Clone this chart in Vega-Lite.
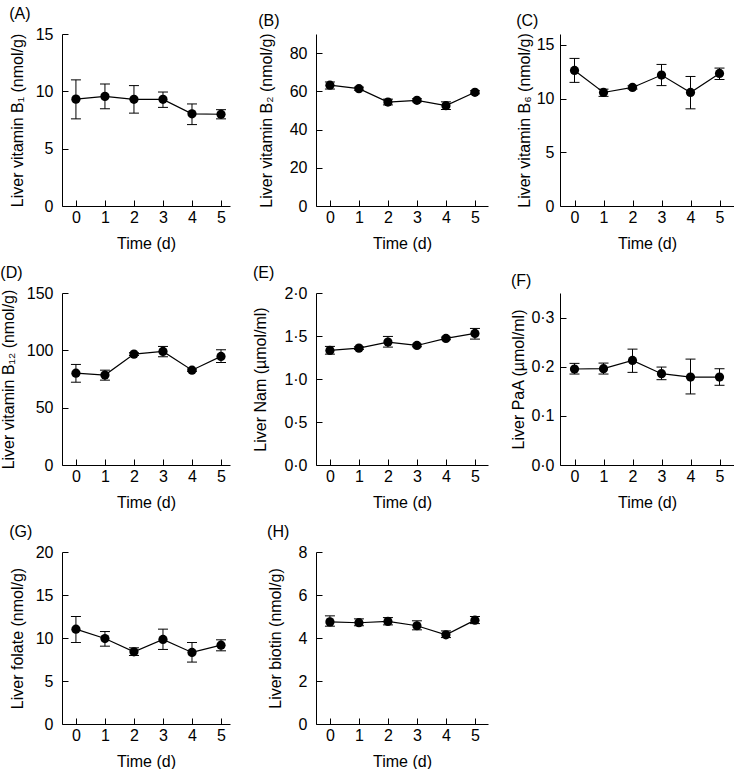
{
  "$schema": "https://vega.github.io/schema/vega-lite/v6.json",
  "background": "white",
  "padding": {"left": 0, "top": 6, "right": 0, "bottom": 0},
  "datasets": {
    "d": [
      {"p": "A", "t": 0, "m": 9.32, "lo": 7.6, "hi": 11.0},
      {"p": "A", "t": 1, "m": 9.56, "lo": 8.48, "hi": 10.64},
      {"p": "A", "t": 2, "m": 9.3, "lo": 8.1, "hi": 10.5},
      {"p": "A", "t": 3, "m": 9.3, "lo": 8.6, "hi": 9.94},
      {"p": "A", "t": 4, "m": 8.04, "lo": 7.1, "hi": 8.9},
      {"p": "A", "t": 5, "m": 8.0, "lo": 7.6, "hi": 8.4},
      {"p": "B", "t": 0, "m": 63.2, "lo": 61.2, "hi": 64.9},
      {"p": "B", "t": 1, "m": 61.4, "lo": 60.6, "hi": 62.2},
      {"p": "B", "t": 2, "m": 54.4, "lo": 52.9, "hi": 55.9},
      {"p": "B", "t": 3, "m": 55.3, "lo": 54.5, "hi": 56.1},
      {"p": "B", "t": 4, "m": 52.5, "lo": 50.5, "hi": 54.5},
      {"p": "B", "t": 5, "m": 59.5, "lo": 58.7, "hi": 60.3},
      {"p": "C", "t": 0, "m": 12.61, "lo": 11.5, "hi": 13.73},
      {"p": "C", "t": 1, "m": 10.56, "lo": 10.2, "hi": 10.87},
      {"p": "C", "t": 2, "m": 11.03, "lo": 10.88, "hi": 11.18},
      {"p": "C", "t": 3, "m": 12.18, "lo": 11.2, "hi": 13.17},
      {"p": "C", "t": 4, "m": 10.56, "lo": 9.04, "hi": 12.05},
      {"p": "C", "t": 5, "m": 12.33, "lo": 11.77, "hi": 12.83},
      {"p": "D", "t": 0, "m": 80.1, "lo": 72.2, "hi": 87.7},
      {"p": "D", "t": 1, "m": 78.4, "lo": 74.0, "hi": 82.7},
      {"p": "D", "t": 2, "m": 96.7, "lo": 95.5, "hi": 97.9},
      {"p": "D", "t": 3, "m": 99.0, "lo": 94.4, "hi": 103.4},
      {"p": "D", "t": 4, "m": 82.7, "lo": 81.7, "hi": 83.7},
      {"p": "D", "t": 5, "m": 94.7, "lo": 89.4, "hi": 100.5},
      {"p": "E", "t": 0, "m": 1.332, "lo": 1.289, "hi": 1.379},
      {"p": "E", "t": 1, "m": 1.359, "lo": 1.344, "hi": 1.374},
      {"p": "E", "t": 2, "m": 1.429, "lo": 1.371, "hi": 1.495},
      {"p": "E", "t": 3, "m": 1.39, "lo": 1.375, "hi": 1.405},
      {"p": "E", "t": 4, "m": 1.472, "lo": 1.457, "hi": 1.487},
      {"p": "E", "t": 5, "m": 1.53, "lo": 1.464, "hi": 1.588},
      {"p": "F", "t": 0, "m": 0.1953, "lo": 0.1851, "hi": 0.2068},
      {"p": "F", "t": 1, "m": 0.196, "lo": 0.1851, "hi": 0.2074},
      {"p": "F", "t": 2, "m": 0.2128, "lo": 0.1885, "hi": 0.2358},
      {"p": "F", "t": 3, "m": 0.1858, "lo": 0.1736, "hi": 0.1993},
      {"p": "F", "t": 4, "m": 0.179, "lo": 0.1446, "hi": 0.2155},
      {"p": "F", "t": 5, "m": 0.179, "lo": 0.1622, "hi": 0.1959},
      {"p": "G", "t": 0, "m": 11.03, "lo": 9.48, "hi": 12.5},
      {"p": "G", "t": 1, "m": 9.94, "lo": 9.05, "hi": 10.75},
      {"p": "G", "t": 2, "m": 8.39, "lo": 7.97, "hi": 8.86},
      {"p": "G", "t": 3, "m": 9.83, "lo": 8.67, "hi": 11.03},
      {"p": "G", "t": 4, "m": 8.32, "lo": 7.2, "hi": 9.48},
      {"p": "G", "t": 5, "m": 9.17, "lo": 8.51, "hi": 9.79},
      {"p": "H", "t": 0, "m": 4.75, "lo": 4.55, "hi": 5.03},
      {"p": "H", "t": 1, "m": 4.71, "lo": 4.57, "hi": 4.89},
      {"p": "H", "t": 2, "m": 4.77, "lo": 4.61, "hi": 4.95},
      {"p": "H", "t": 3, "m": 4.57, "lo": 4.38, "hi": 4.8},
      {"p": "H", "t": 4, "m": 4.15, "lo": 4.02, "hi": 4.33},
      {"p": "H", "t": 5, "m": 4.83, "lo": 4.67, "hi": 5.0}
    ]
  },
  "columns": 3,
  "spacing": {"row": 14, "column": 22},
  "concat": [
    {
      "width": 168, "height": 172,
      "title": "(A)",
      "data": {"name": "d"},
      "transform": [{"filter": "datum.p == 'A'"}],
      "encoding": {"x": {"field": "t", "type": "quantitative", "scale": {"domain": [-0.48, 5.31]}, "axis": {"values": [0,1,2,3,4,5], "title": "Time (d)"}}},
      "layer": [
        {"mark": {"type": "line", "color": "black", "strokeWidth": 1.2}, "encoding": {"y": {"field": "m", "type": "quantitative", "scale": {"domain": [0, 15]}, "axis": {"values": [0,5,10,15], "titlePadding": 10}, "title": "Liver vitamin B₁ (nmol/g)"}}},
        {"mark": {"type": "rule", "color": "black", "strokeWidth": 1}, "encoding": {"y": {"field": "lo", "type": "quantitative", "scale": {"domain": [0, 15]}, "title": "Liver vitamin B₁ (nmol/g)"}, "y2": {"field": "hi"}}},
        {"mark": {"type": "tick", "orient": "horizontal", "size": 10, "thickness": 1, "color": "black", "opacity": 1}, "encoding": {"y": {"field": "lo", "type": "quantitative", "scale": {"domain": [0, 15]}, "title": "Liver vitamin B₁ (nmol/g)"}}},
        {"mark": {"type": "tick", "orient": "horizontal", "size": 10, "thickness": 1, "color": "black", "opacity": 1}, "encoding": {"y": {"field": "hi", "type": "quantitative", "scale": {"domain": [0, 15]}, "title": "Liver vitamin B₁ (nmol/g)"}}},
        {"mark": {"type": "circle", "size": 85, "color": "black", "opacity": 1}, "encoding": {"y": {"field": "m", "type": "quantitative", "scale": {"domain": [0, 15]}, "title": "Liver vitamin B₁ (nmol/g)"}}}
      ]
    },
    {
      "width": 172, "height": 172,
      "title": "(B)",
      "data": {"name": "d"},
      "transform": [{"filter": "datum.p == 'B'"}],
      "encoding": {"x": {"field": "t", "type": "quantitative", "scale": {"domain": [-0.48, 5.45]}, "axis": {"values": [0,1,2,3,4,5], "title": "Time (d)"}}},
      "layer": [
        {"mark": {"type": "line", "color": "black", "strokeWidth": 1.2}, "encoding": {"y": {"field": "m", "type": "quantitative", "scale": {"domain": [0, 90]}, "axis": {"values": [0,20,40,60,80], "titlePadding": 15}, "title": "Liver vitamin B₂ (nmol/g)"}}},
        {"mark": {"type": "rule", "color": "black", "strokeWidth": 1}, "encoding": {"y": {"field": "lo", "type": "quantitative", "scale": {"domain": [0, 90]}, "title": "Liver vitamin B₂ (nmol/g)"}, "y2": {"field": "hi"}}},
        {"mark": {"type": "tick", "orient": "horizontal", "size": 10, "thickness": 1, "color": "black", "opacity": 1}, "encoding": {"y": {"field": "lo", "type": "quantitative", "scale": {"domain": [0, 90]}, "title": "Liver vitamin B₂ (nmol/g)"}}},
        {"mark": {"type": "tick", "orient": "horizontal", "size": 10, "thickness": 1, "color": "black", "opacity": 1}, "encoding": {"y": {"field": "hi", "type": "quantitative", "scale": {"domain": [0, 90]}, "title": "Liver vitamin B₂ (nmol/g)"}}},
        {"mark": {"type": "circle", "size": 85, "color": "black", "opacity": 1}, "encoding": {"y": {"field": "m", "type": "quantitative", "scale": {"domain": [0, 90]}, "title": "Liver vitamin B₂ (nmol/g)"}}}
      ]
    },
    {
      "width": 174, "height": 172,
      "title": "(C)",
      "data": {"name": "d"},
      "transform": [{"filter": "datum.p == 'C'"}],
      "encoding": {"x": {"field": "t", "type": "quantitative", "scale": {"domain": [-0.5, 5.5]}, "axis": {"values": [0,1,2,3,4,5], "title": "Time (d)"}}},
      "layer": [
        {"mark": {"type": "line", "color": "black", "strokeWidth": 1.2}, "encoding": {"y": {"field": "m", "type": "quantitative", "scale": {"domain": [0, 16]}, "axis": {"values": [0,5,10,15], "titlePadding": 4, "labelPadding": 12}, "title": "Liver vitamin B₆ (nmol/g)"}}},
        {"mark": {"type": "rule", "color": "black", "strokeWidth": 1}, "encoding": {"y": {"field": "lo", "type": "quantitative", "scale": {"domain": [0, 16]}, "title": "Liver vitamin B₆ (nmol/g)"}, "y2": {"field": "hi"}}},
        {"mark": {"type": "tick", "orient": "horizontal", "size": 10, "thickness": 1, "color": "black", "opacity": 1}, "encoding": {"y": {"field": "lo", "type": "quantitative", "scale": {"domain": [0, 16]}, "title": "Liver vitamin B₆ (nmol/g)"}}},
        {"mark": {"type": "tick", "orient": "horizontal", "size": 10, "thickness": 1, "color": "black", "opacity": 1}, "encoding": {"y": {"field": "hi", "type": "quantitative", "scale": {"domain": [0, 16]}, "title": "Liver vitamin B₆ (nmol/g)"}}},
        {"mark": {"type": "circle", "size": 85, "color": "black", "opacity": 1}, "encoding": {"y": {"field": "m", "type": "quantitative", "scale": {"domain": [0, 16]}, "title": "Liver vitamin B₆ (nmol/g)"}}}
      ]
    },
    {
      "width": 168, "height": 172,
      "title": "(D)",
      "data": {"name": "d"},
      "transform": [{"filter": "datum.p == 'D'"}],
      "encoding": {"x": {"field": "t", "type": "quantitative", "scale": {"domain": [-0.48, 5.31]}, "axis": {"values": [0,1,2,3,4,5], "title": "Time (d)"}}},
      "layer": [
        {"mark": {"type": "line", "color": "black", "strokeWidth": 1.2}, "encoding": {"y": {"field": "m", "type": "quantitative", "scale": {"domain": [0, 150]}, "axis": {"values": [0,50,100,150], "titlePadding": 10}, "title": "Liver vitamin B₁₂ (nmol/g)"}}},
        {"mark": {"type": "rule", "color": "black", "strokeWidth": 1}, "encoding": {"y": {"field": "lo", "type": "quantitative", "scale": {"domain": [0, 150]}, "title": "Liver vitamin B₁₂ (nmol/g)"}, "y2": {"field": "hi"}}},
        {"mark": {"type": "tick", "orient": "horizontal", "size": 10, "thickness": 1, "color": "black", "opacity": 1}, "encoding": {"y": {"field": "lo", "type": "quantitative", "scale": {"domain": [0, 150]}, "title": "Liver vitamin B₁₂ (nmol/g)"}}},
        {"mark": {"type": "tick", "orient": "horizontal", "size": 10, "thickness": 1, "color": "black", "opacity": 1}, "encoding": {"y": {"field": "hi", "type": "quantitative", "scale": {"domain": [0, 150]}, "title": "Liver vitamin B₁₂ (nmol/g)"}}},
        {"mark": {"type": "circle", "size": 85, "color": "black", "opacity": 1}, "encoding": {"y": {"field": "m", "type": "quantitative", "scale": {"domain": [0, 150]}, "title": "Liver vitamin B₁₂ (nmol/g)"}}}
      ]
    },
    {
      "width": 172, "height": 172,
      "title": "(E)",
      "data": {"name": "d"},
      "transform": [{"filter": "datum.p == 'E'"}],
      "encoding": {"x": {"field": "t", "type": "quantitative", "scale": {"domain": [-0.48, 5.45]}, "axis": {"values": [0,1,2,3,4,5], "title": "Time (d)"}}},
      "layer": [
        {"mark": {"type": "line", "color": "black", "strokeWidth": 1.2}, "encoding": {"y": {"field": "m", "type": "quantitative", "scale": {"domain": [0, 2]}, "axis": {"values": [0,0.5,1,1.5,2], "titlePadding": 15, "labelExpr": "replace(format(datum.value, '.1f'), '.', '·')"}, "title": "Liver Nam (µmol/ml)"}}},
        {"mark": {"type": "rule", "color": "black", "strokeWidth": 1}, "encoding": {"y": {"field": "lo", "type": "quantitative", "scale": {"domain": [0, 2]}, "title": "Liver Nam (µmol/ml)"}, "y2": {"field": "hi"}}},
        {"mark": {"type": "tick", "orient": "horizontal", "size": 10, "thickness": 1, "color": "black", "opacity": 1}, "encoding": {"y": {"field": "lo", "type": "quantitative", "scale": {"domain": [0, 2]}, "title": "Liver Nam (µmol/ml)"}}},
        {"mark": {"type": "tick", "orient": "horizontal", "size": 10, "thickness": 1, "color": "black", "opacity": 1}, "encoding": {"y": {"field": "hi", "type": "quantitative", "scale": {"domain": [0, 2]}, "title": "Liver Nam (µmol/ml)"}}},
        {"mark": {"type": "circle", "size": 85, "color": "black", "opacity": 1}, "encoding": {"y": {"field": "m", "type": "quantitative", "scale": {"domain": [0, 2]}, "title": "Liver Nam (µmol/ml)"}}}
      ]
    },
    {
      "width": 174, "height": 172,
      "title": "(F)",
      "data": {"name": "d"},
      "transform": [{"filter": "datum.p == 'F'"}],
      "encoding": {"x": {"field": "t", "type": "quantitative", "scale": {"domain": [-0.5, 5.5]}, "axis": {"values": [0,1,2,3,4,5], "title": "Time (d)"}}},
      "layer": [
        {"mark": {"type": "line", "color": "black", "strokeWidth": 1.2}, "encoding": {"y": {"field": "m", "type": "quantitative", "scale": {"domain": [0, 0.35]}, "axis": {"values": [0,0.1,0.2,0.3], "titlePadding": 4, "labelPadding": 12, "labelExpr": "replace(format(datum.value, '.1f'), '.', '·')"}, "title": "Liver PaA (µmol/ml)"}}},
        {"mark": {"type": "rule", "color": "black", "strokeWidth": 1}, "encoding": {"y": {"field": "lo", "type": "quantitative", "scale": {"domain": [0, 0.35]}, "title": "Liver PaA (µmol/ml)"}, "y2": {"field": "hi"}}},
        {"mark": {"type": "tick", "orient": "horizontal", "size": 10, "thickness": 1, "color": "black", "opacity": 1}, "encoding": {"y": {"field": "lo", "type": "quantitative", "scale": {"domain": [0, 0.35]}, "title": "Liver PaA (µmol/ml)"}}},
        {"mark": {"type": "tick", "orient": "horizontal", "size": 10, "thickness": 1, "color": "black", "opacity": 1}, "encoding": {"y": {"field": "hi", "type": "quantitative", "scale": {"domain": [0, 0.35]}, "title": "Liver PaA (µmol/ml)"}}},
        {"mark": {"type": "circle", "size": 85, "color": "black", "opacity": 1}, "encoding": {"y": {"field": "m", "type": "quantitative", "scale": {"domain": [0, 0.35]}, "title": "Liver PaA (µmol/ml)"}}}
      ]
    },
    {
      "width": 168, "height": 172,
      "title": "(G)",
      "data": {"name": "d"},
      "transform": [{"filter": "datum.p == 'G'"}],
      "encoding": {"x": {"field": "t", "type": "quantitative", "scale": {"domain": [-0.48, 5.31]}, "axis": {"values": [0,1,2,3,4,5], "title": "Time (d)"}}},
      "layer": [
        {"mark": {"type": "line", "color": "black", "strokeWidth": 1.2}, "encoding": {"y": {"field": "m", "type": "quantitative", "scale": {"domain": [0, 20]}, "axis": {"values": [0,5,10,15,20], "titlePadding": 10}, "title": "Liver folate (nmol/g)"}}},
        {"mark": {"type": "rule", "color": "black", "strokeWidth": 1}, "encoding": {"y": {"field": "lo", "type": "quantitative", "scale": {"domain": [0, 20]}, "title": "Liver folate (nmol/g)"}, "y2": {"field": "hi"}}},
        {"mark": {"type": "tick", "orient": "horizontal", "size": 10, "thickness": 1, "color": "black", "opacity": 1}, "encoding": {"y": {"field": "lo", "type": "quantitative", "scale": {"domain": [0, 20]}, "title": "Liver folate (nmol/g)"}}},
        {"mark": {"type": "tick", "orient": "horizontal", "size": 10, "thickness": 1, "color": "black", "opacity": 1}, "encoding": {"y": {"field": "hi", "type": "quantitative", "scale": {"domain": [0, 20]}, "title": "Liver folate (nmol/g)"}}},
        {"mark": {"type": "circle", "size": 85, "color": "black", "opacity": 1}, "encoding": {"y": {"field": "m", "type": "quantitative", "scale": {"domain": [0, 20]}, "title": "Liver folate (nmol/g)"}}}
      ]
    },
    {
      "width": 172, "height": 172,
      "title": "(H)",
      "data": {"name": "d"},
      "transform": [{"filter": "datum.p == 'H'"}],
      "encoding": {"x": {"field": "t", "type": "quantitative", "scale": {"domain": [-0.48, 5.45]}, "axis": {"values": [0,1,2,3,4,5], "title": "Time (d)"}}},
      "layer": [
        {"mark": {"type": "line", "color": "black", "strokeWidth": 1.2}, "encoding": {"y": {"field": "m", "type": "quantitative", "scale": {"domain": [0, 8]}, "axis": {"values": [0,2,4,6,8], "titlePadding": 15}, "title": "Liver biotin (nmol/g)"}}},
        {"mark": {"type": "rule", "color": "black", "strokeWidth": 1}, "encoding": {"y": {"field": "lo", "type": "quantitative", "scale": {"domain": [0, 8]}, "title": "Liver biotin (nmol/g)"}, "y2": {"field": "hi"}}},
        {"mark": {"type": "tick", "orient": "horizontal", "size": 10, "thickness": 1, "color": "black", "opacity": 1}, "encoding": {"y": {"field": "lo", "type": "quantitative", "scale": {"domain": [0, 8]}, "title": "Liver biotin (nmol/g)"}}},
        {"mark": {"type": "tick", "orient": "horizontal", "size": 10, "thickness": 1, "color": "black", "opacity": 1}, "encoding": {"y": {"field": "hi", "type": "quantitative", "scale": {"domain": [0, 8]}, "title": "Liver biotin (nmol/g)"}}},
        {"mark": {"type": "circle", "size": 85, "color": "black", "opacity": 1}, "encoding": {"y": {"field": "m", "type": "quantitative", "scale": {"domain": [0, 8]}, "title": "Liver biotin (nmol/g)"}}}
      ]
    }
  ],
  "config": {
    "font": "Liberation Sans",
    "view": {"stroke": null},
    "axis": {
      "grid": false, "domainColor": "black", "tickColor": "black", "labelColor": "black", "titleColor": "black",
      "labelFont": "Liberation Sans", "titleFont": "Liberation Sans", "labelFontSize": 16, "titleFontSize": 16,
      "titleFontWeight": "normal", "tickSize": -6, "labelPadding": 15, "domainWidth": 1, "tickWidth": 1
    },
    "axisX": {"titlePadding": 10, "labelPadding": 9},
    "title": {"anchor": "start", "frame": "bounds", "fontSize": 16, "fontWeight": "normal", "font": "Liberation Sans", "color": "black", "offset": 4}
  }
}
